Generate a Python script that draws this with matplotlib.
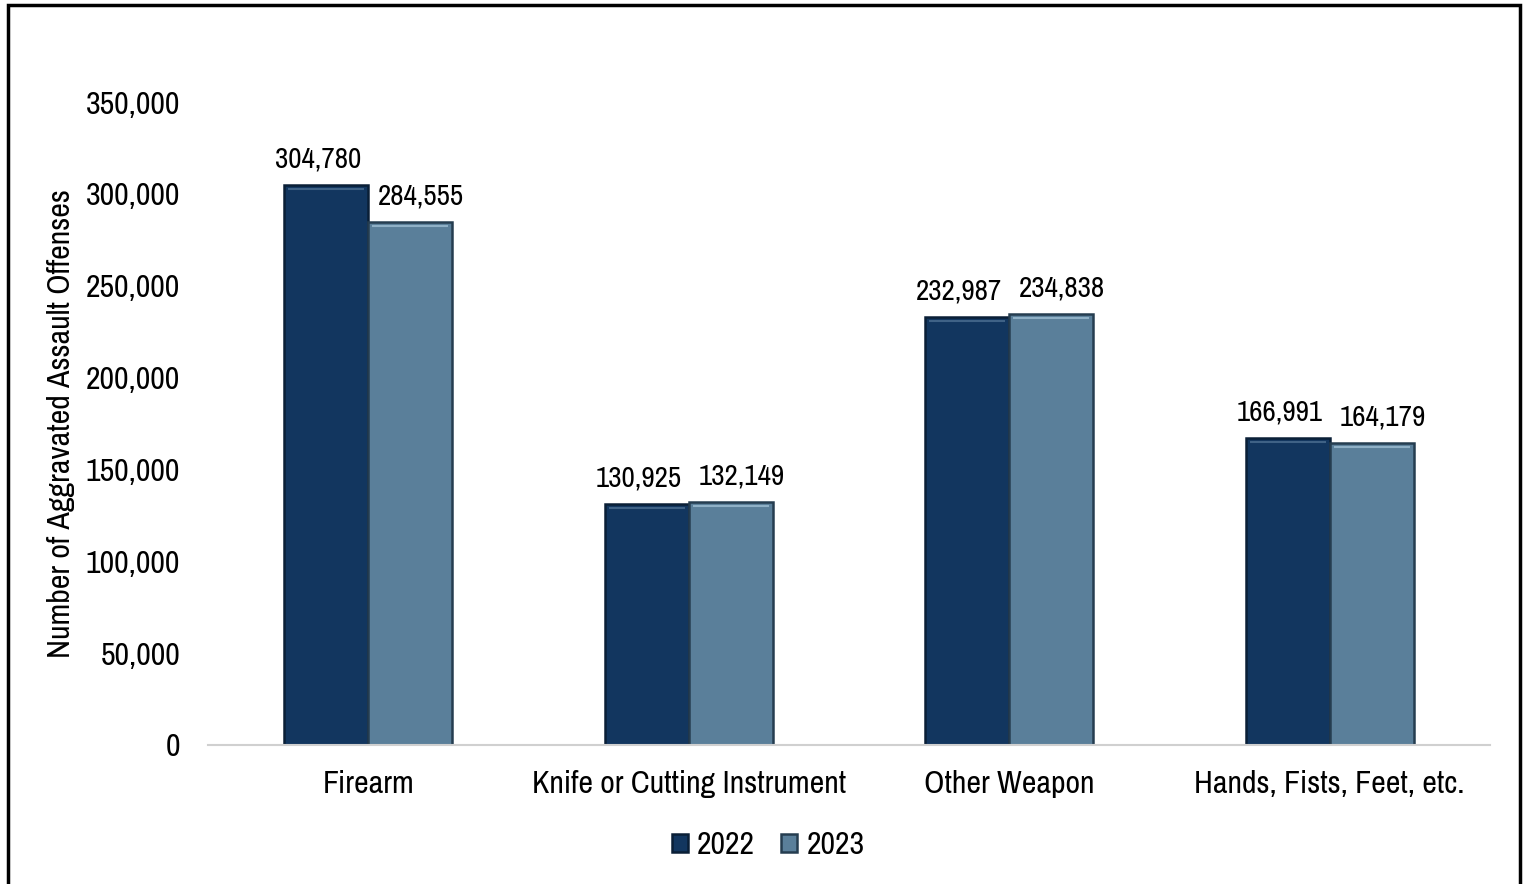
import matplotlib.pyplot as plt
import matplotlib.font_manager as fm
import matplotlib.transforms as mtransforms
import numpy as np
from matplotlib.patches import Rectangle

categories = ["Firearm", "Knife or Cutting Instrument", "Other Weapon", "Hands, Fists, Feet, etc."]
years = ["2022", "2023"]
values_2022 = [304780, 130925, 232987, 166991]
values_2023 = [284555, 132149, 234838, 164179]

# narrow font if there is one, else Liberation Sans (Arial metrics)
names = sorted({f.name for f in fm.fontManager.ttflist})
narrow = [n for n in names if "Narrow" in n or "Condensed" in n]
font = narrow[0] if narrow else "Liberation Sans"
plt.rcParams['font.family'] = [font, 'DejaVu Sans']
fs = 23 if narrow else 19
lfs = 21 if narrow else 17

fig = plt.figure(figsize=(15.28, 8.84), dpi=100)
ax = fig.add_axes([208 / 1528, 139 / 884, 1282 / 1528, 643 / 884])

x = np.arange(len(categories))
w = 0.262
b1 = ax.bar(x - w / 2, values_2022, w, color="#12365f", edgecolor="#0a1f36", linewidth=1.8, label=years[0])
b2 = ax.bar(x + w / 2, values_2023, w, color="#5a7f9a", edgecolor="#253d50", linewidth=1.8, label=years[1])

# light line just under the top of each bar (bevel look)
shift = mtransforms.offset_copy(ax.transData, fig=fig, x=0, y=-4, units="dots")
for bars, vals, hc in [(b1, values_2022, "#3f6286"), (b2, values_2023, "#8fb0c6")]:
    for r, v in zip(bars, vals):
        ax.plot([r.get_x() + 0.012, r.get_x() + r.get_width() - 0.012], [v, v], color=hc,
                lw=1.5, transform=shift, solid_capstyle="butt")

# labels pushed a bit apart, like the original
for bars, vals, dx in [(b1, values_2022, -6), (b2, values_2023, 8)]:
    for r, v in zip(bars, vals):
        ax.annotate(f"{v:,}", (r.get_x() + r.get_width() / 2, v), xytext=(dx, 9),
                    textcoords="offset points", ha="center", va="bottom", fontsize=lfs)

ax.set_xlim(-0.5, 3.5)
ax.set_ylim(0, 350000)
ax.set_yticks(range(0, 350001, 50000))
ax.set_yticklabels([f"{t:,}" for t in range(0, 350001, 50000)], fontsize=fs)
ax.set_xticks(x)
ax.set_xticklabels(categories, fontsize=fs)
ax.tick_params(axis="both", length=0)
ax.tick_params(axis="x", pad=18)
ax.tick_params(axis="y", pad=20)
for s in ["top", "right", "left"]:
    ax.spines[s].set_visible(False)
ax.spines["bottom"].set_color("#d0d0d0")
ax.spines["bottom"].set_linewidth(1.5)
ax.set_ylabel("Number of Aggravated Assault Offenses", fontsize=fs, labelpad=8)

fig.legend(loc="center", bbox_to_anchor=(768 / 1528, 1 - 845 / 884), ncol=2, frameon=False,
           fontsize=fs, handlelength=0.5, handleheight=0.5, handletextpad=0.3, columnspacing=0.8)

fig.patches.append(Rectangle((8 / 1528, -0.02), 1512 / 1528, 0.02 + 879 / 884, transform=fig.transFigure,
                             fill=False, edgecolor="black", linewidth=2.5))

fig.savefig("out.png", dpi=100)
